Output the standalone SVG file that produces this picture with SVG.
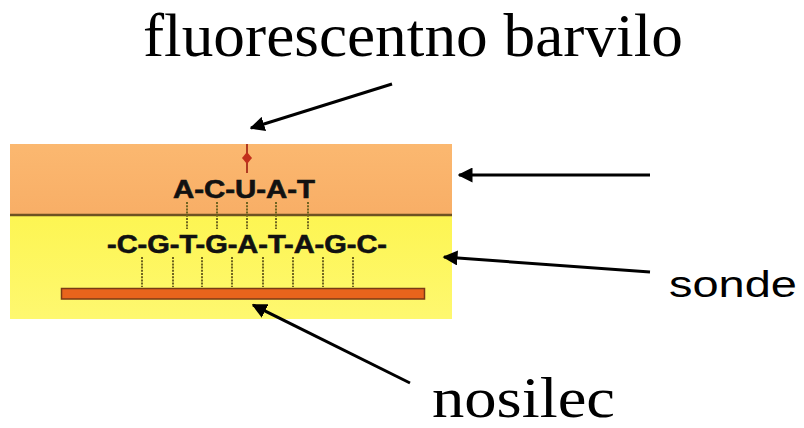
<svg xmlns="http://www.w3.org/2000/svg" width="804" height="428" viewBox="0 0 804 428">
<defs>
<linearGradient id="org" x1="0" y1="0" x2="0" y2="1">
<stop offset="0" stop-color="#fbb870"/><stop offset="1" stop-color="#f8ae66"/>
</linearGradient>
<linearGradient id="yel" x1="0" y1="0" x2="0" y2="1">
<stop offset="0" stop-color="#fdf552"/><stop offset="1" stop-color="#fef870"/>
</linearGradient>
<marker id="ah" viewBox="0 0 10 10" refX="9" refY="5" markerWidth="5" markerHeight="5" markerUnits="strokeWidth" orient="auto">
<path d="M0,0 L10,5 L0,10 z" fill="#000"/>
</marker>
<style>
.conn{stroke:#000;stroke-width:3;fill:none;marker-end:url(#ah)}
.serif{font-family:"Liberation Serif","Times New Roman",serif;fill:#000}
.sans{font-family:"Liberation Sans",Arial,sans-serif;fill:#000}
.seq{font-family:"Liberation Sans",Arial,sans-serif;font-weight:bold;font-size:25px;fill:#111;stroke:#111;stroke-width:0.6}
.dot{stroke:#6f6420;stroke-width:2;stroke-dasharray:2 1.2}
</style>
</defs>
<g id="panel">
<rect x="10" y="144" width="442" height="71" fill="url(#org)"/>
<rect x="10" y="215" width="442" height="104" fill="url(#yel)"/>
<line x1="10" y1="215" x2="452" y2="215" stroke="#6e5222" stroke-width="2.5"/>
</g>
<g id="fluorophore">
<line x1="247" y1="144" x2="247" y2="173" stroke="#b03a22" stroke-width="2"/>
<path d="M247,152 L252,158 L247,164 L242,158 z" fill="#c2301c"/>
</g>
<g id="target">
<text class="seq" x="173" y="198" textLength="142" lengthAdjust="spacingAndGlyphs">A-C-U-A-T</text>
<g class="dot">
<line x1="187" y1="202" x2="187" y2="229"/>
<line x1="217" y1="202" x2="217" y2="229"/>
<line x1="247" y1="202" x2="247" y2="229"/>
<line x1="276" y1="202" x2="276" y2="229"/>
<line x1="308" y1="202" x2="308" y2="229"/>
</g>
</g>
<g id="probe">
<text class="seq" x="107" y="253" textLength="280" lengthAdjust="spacingAndGlyphs">-C-G-T-G-A-T-A-G-C-</text>
<g class="dot">
<line x1="142" y1="257" x2="142" y2="287"/>
<line x1="173" y1="257" x2="173" y2="287"/>
<line x1="202" y1="257" x2="202" y2="287"/>
<line x1="232" y1="257" x2="232" y2="287"/>
<line x1="263" y1="257" x2="263" y2="287"/>
<line x1="293" y1="257" x2="293" y2="287"/>
<line x1="323" y1="257" x2="323" y2="287"/>
<line x1="353" y1="257" x2="353" y2="287"/>
</g>
</g>
<g id="support">
<rect x="61.5" y="288.5" width="363" height="10.5" fill="#e8641c" stroke="#7a3a14" stroke-width="1.5"/>
</g>
<g id="label-dye">
<text class="serif" x="143" y="56" font-size="61" textLength="540" lengthAdjust="spacingAndGlyphs">fluorescentno barvilo</text>
</g>
<g id="label-sonde">
<text class="sans" x="669" y="297" font-size="37" textLength="128" lengthAdjust="spacingAndGlyphs">sonde</text>
</g>
<g id="label-nosilec">
<text class="serif" x="432" y="417" font-size="57" textLength="183" lengthAdjust="spacingAndGlyphs">nosilec</text>
</g>
<g id="connectors">
<line class="conn" x1="392" y1="84" x2="251" y2="128"/>
<line class="conn" x1="650" y1="175" x2="459" y2="175"/>
<line class="conn" x1="650" y1="272" x2="444" y2="257"/>
<line class="conn" x1="410" y1="383" x2="253" y2="305"/>
</g>
</svg>
